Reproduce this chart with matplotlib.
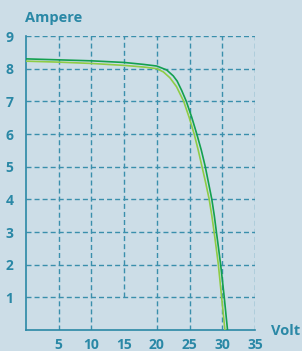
import matplotlib
matplotlib.use("Agg")
import matplotlib.pyplot as plt

# I-V curves (Volt, Ampere)
volt_dark = [0, 5, 10, 15, 18, 20, 21.5, 22.5, 23.1, 23.8, 24.5, 25.35, 26.1,
             26.8, 27.4, 27.9, 28.4, 28.78, 29.1, 29.43, 29.75, 30.03, 30.3, 30.55, 30.8]
amp_dark = [8.30, 8.27, 8.24, 8.19, 8.13, 8.08, 7.96, 7.78, 7.62, 7.33, 7.0, 6.5, 6.0,
            5.5, 5.0, 4.5, 4.0, 3.5, 3.0, 2.5, 2.0, 1.5, 1.0, 0.5, 0.0]

volt_light = [0, 5, 10, 15, 18, 20, 21, 22, 23, 24.1, 24.95, 25.7, 26.33,
              26.9, 27.47, 28.0, 28.4, 28.75, 29.08, 29.4, 29.65, 29.9, 30.15, 30.4]
amp_light = [8.23, 8.20, 8.16, 8.10, 8.05, 8.00, 7.90, 7.72, 7.45, 7.0, 6.5, 6.0, 5.5,
             5.0, 4.5, 4.0, 3.5, 3.0, 2.5, 2.0, 1.5, 1.0, 0.5, 0.0]

x_ticks = [5, 10, 15, 20, 25, 30, 35]
y_ticks = [1, 2, 3, 4, 5, 6, 7, 8, 9]

BG = "#ccdde7"
TEAL = "#2a88a6"
GRID = "#3a8fac"

plt.rcParams['font.family'] = ['Open Sans', 'DejaVu Sans']

fig = plt.figure(figsize=(3.02, 3.51), dpi=100, facecolor=BG)
ax = fig.add_axes([26 / 302, 21 / 351, 229 / 302, 294 / 351])
ax.set_facecolor(BG)

# dashed grid, drawn by hand because the 15 V line stops at 1 A
dash = (0, (3.6, 2.2))
for y in y_ticks:
    ax.hlines(y, 0, 35, colors=GRID, linewidth=1.0, linestyles=dash, zorder=1)
for x in x_ticks:
    y0 = 1 if x == 15 else 0
    ax.vlines(x, y0, 9, colors=GRID, linewidth=1.0, linestyles=dash, zorder=1)

ax.plot(volt_light, amp_light, color="#8fcc45", linewidth=1.2, zorder=3)
ax.plot(volt_dark, amp_dark, color="#13a050", linewidth=1.2, zorder=3)

ax.set_xlim(0, 35)
ax.set_ylim(0, 9)
for side in ['top', 'right']:
    ax.spines[side].set_visible(False)
for side in ['left', 'bottom']:
    ax.spines[side].set_color(TEAL)
    ax.spines[side].set_linewidth(1.2)

ax.set_xticks(x_ticks)
ax.set_yticks(y_ticks)
ax.tick_params(length=0, colors=TEAL, labelsize=10)
ax.tick_params(axis='x', pad=6)
ax.tick_params(axis='y', pad=9)
for lab in ax.get_xticklabels() + ax.get_yticklabels():
    lab.set_fontweight('bold')

fig.text(25 / 302, 1 - 18 / 351, "Ampere", color=TEAL, fontsize=10.5,
         fontweight='bold', ha='left', va='center')
fig.text(271 / 302, 1 - 331 / 351, "Volt", color=TEAL, fontsize=10.5,
         fontweight='bold', ha='left', va='center')

fig.savefig("out.png", dpi=100, facecolor=BG)
